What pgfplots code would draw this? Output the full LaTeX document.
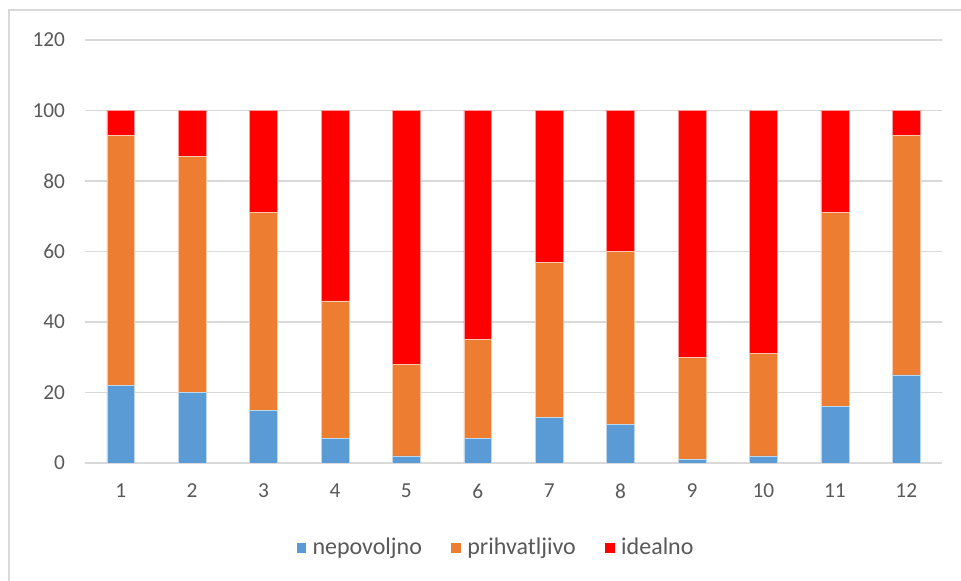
\documentclass[border=0pt]{standalone}
\usepackage{pgfplots}
\pgfplotsset{compat=1.18}
\usepackage{fontspec}
\setmainfont{Carlito}
\definecolor{cblue}{HTML}{5B9BD5}
\definecolor{corange}{HTML}{ED7D31}
\definecolor{cred}{HTML}{FF0000}
\definecolor{cgrid}{HTML}{D9D9D9}
\definecolor{ctext}{HTML}{595959}
\begin{document}
\begin{tikzpicture}
\path[use as bounding box] (0pt,0pt) rectangle (720.75pt,435.75pt);
\draw[cgrid,line width=1.5pt] (6.75pt,0pt) -- (6.75pt,428.25pt) -- (720.75pt,428.25pt);
\begin{axis}[
  at={(63.75pt,88.5pt)}, anchor=south west,
  scale only axis, width=642.75pt, height=317.25pt,
  ybar stacked, bar width=0.39,
  xmin=0.5, xmax=12.5, ymin=0, ymax=120,
  xtick={1,...,12}, ytick={0,20,...,120},
  axis line style={draw=none},
  tick style={draw=none},
  ymajorgrids, grid style={cgrid, line width=1pt},
  ticklabel style={font=\fontsize{16}{18}\selectfont, text=ctext},
  /pgf/number format/assume math mode=true,
  yticklabel style={xshift=-11.5pt},
  xticklabel style={yshift=-12pt},
  legend style={at={(0.48,-0.20)}, anchor=center, draw=none, font=\fontsize{18}{20}\selectfont, text=ctext, legend columns=3, /tikz/every even column/.append style={column sep=20pt}, /tikz/every odd column/.append style={column sep=3pt}},
  legend image code/.code={\draw[#1,draw=none] (0pt,-4pt) rectangle (7pt,3.5pt);},
]
\addplot[fill=cblue, draw=white!60!cblue, line width=0.4pt] coordinates {(1,22) (2,20) (3,15) (4,7) (5,2) (6,7) (7,13) (8,11) (9,1) (10,2) (11,16) (12,25)};
\addplot[fill=corange, draw=white!60!corange, line width=0.4pt] coordinates {(1,71) (2,67) (3,56) (4,39) (5,26) (6,28) (7,44) (8,49) (9,29) (10,29) (11,55) (12,68)};
\addplot[fill=cred, draw=white!60!cred, line width=0.4pt] coordinates {(1,7) (2,13) (3,29) (4,54) (5,72) (6,65) (7,43) (8,40) (9,70) (10,69) (11,29) (12,7)};
\legend{nepovoljno, prihvatljivo, idealno}
\end{axis}
\end{tikzpicture}
\end{document}
